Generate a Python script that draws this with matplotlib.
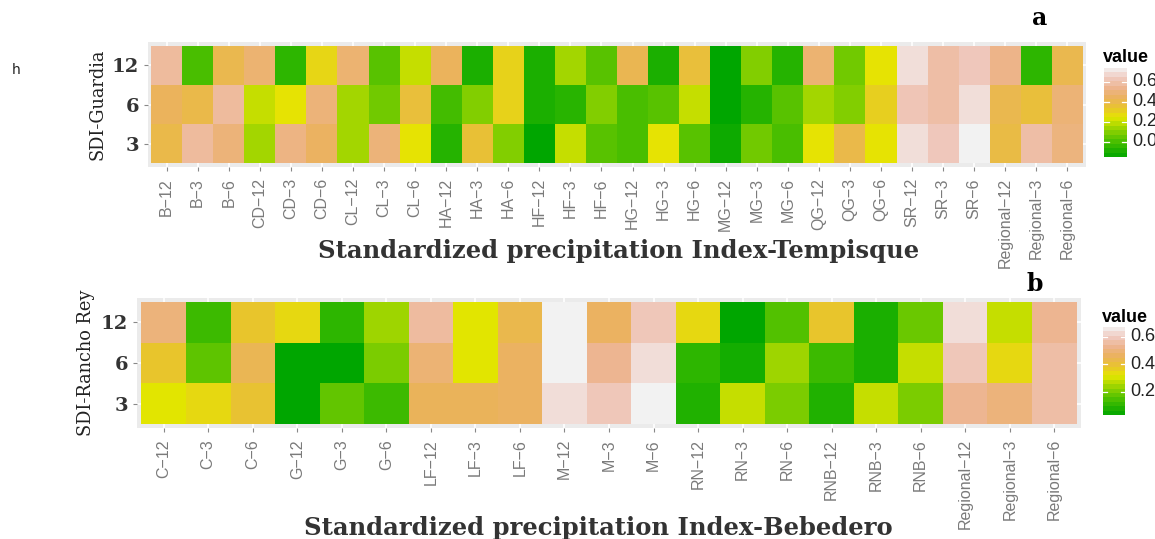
import colorsys
import numpy as np
import matplotlib
matplotlib.use("Agg")
import matplotlib.pyplot as plt
from matplotlib.colors import LinearSegmentedColormap, Normalize

# ---------------- data ----------------
rows = ["3", "6", "12"]

tempisque_cols = ["B-12", "B-3", "B-6", "CD-12", "CD-3", "CD-6", "CL-12", "CL-3", "CL-6",
                  "HA-12", "HA-3", "HA-6", "HF-12", "HF-3", "HF-6", "HG-12", "HG-3", "HG-6",
                  "MG-12", "MG-3", "MG-6", "QG-12", "QG-3", "QG-6", "SR-12", "SR-3", "SR-6",
                  "Regional-12", "Regional-3", "Regional-6"]
tempisque_12 = [0.57, 0.00, 0.41, 0.48, -0.05, 0.29, 0.48, 0.03, 0.20,
                0.44, -0.09, 0.30, -0.09, 0.15, 0.03, 0.42, -0.09, 0.37,
                -0.15, 0.10, -0.07, 0.48, 0.07, 0.25, 0.69, 0.59, 0.63,
                0.53, -0.05, 0.41]
tempisque_6 = [0.44, 0.40, 0.57, 0.20, 0.25, 0.50, 0.15, 0.07, 0.37,
               -0.01, 0.10, 0.30, -0.09, -0.06, 0.10, 0.00, 0.03, 0.20,
               -0.15, -0.07, 0.03, 0.15, 0.10, 0.31, 0.62, 0.59, 0.69,
               0.41, 0.37, 0.49]
tempisque_3 = [0.40, 0.57, 0.50, 0.15, 0.52, 0.45, 0.15, 0.50, 0.25,
               -0.07, 0.36, 0.10, -0.15, 0.20, 0.03, 0.00, 0.25, 0.03,
               -0.12, 0.07, 0.00, 0.25, 0.40, 0.25, 0.69, 0.63, 0.74,
               0.39, 0.59, 0.51]

bebedero_cols = ["C-12", "C-3", "C-6", "G-12", "G-3", "G-6", "LF-12", "LF-3", "LF-6",
                 "M-12", "M-3", "M-6", "RN-12", "RN-3", "RN-6", "RNB-12", "RNB-3", "RNB-6",
                 "Regional-12", "Regional-3", "Regional-6"]
bebedero_12 = [0.50, 0.12, 0.38, 0.34, 0.10, 0.24, 0.55, 0.31, 0.43,
               0.67, 0.46, 0.59, 0.34, 0.03, 0.15, 0.38, 0.07, 0.18,
               0.63, 0.28, 0.53]
bebedero_6 = [0.38, 0.165, 0.44, 0.03, 0.03, 0.20, 0.49, 0.31, 0.46,
              0.67, 0.53, 0.63, 0.10, 0.06, 0.24, 0.12, 0.07, 0.28,
              0.59, 0.34, 0.56]
bebedero_3 = [0.31, 0.34, 0.39, 0.03, 0.17, 0.12, 0.45, 0.45, 0.46,
              0.63, 0.59, 0.67, 0.08, 0.28, 0.20, 0.08, 0.28, 0.20,
              0.53, 0.50, 0.56]

tempisque_ticks = [0.0, 0.2, 0.4, 0.6]
bebedero_ticks = [0.2, 0.4, 0.6]


# R terrain.colors(10)
def terrain_colors(n):
    k = n // 2
    cols = []
    for h, s, v in zip(np.linspace(4 / 12, 2 / 12, k), np.ones(k), np.linspace(0.65, 0.9, k)):
        cols.append(colorsys.hsv_to_rgb(h, s, v))
    m = n - k + 1
    for h, s, v in list(zip(np.linspace(2 / 12, 0, m), np.linspace(1, 0, m), np.linspace(0.9, 0.95, m)))[1:]:
        cols.append(colorsys.hsv_to_rgb(h, s, v))
    return cols


cmap = LinearSegmentedColormap.from_list("terrain_r", terrain_colors(10))

W, H = 1155, 539
fig = plt.figure(figsize=(W / 100, H / 100), dpi=100)


def px_axes(left, top, right, bottom):
    return fig.add_axes([left / W, 1 - bottom / H, (right - left) / W, (bottom - top) / H])


def heat(box, cols, data, ylabel, xlabel, xlabel_xy, letter, letter_xy):
    ax = px_axes(*box)
    data = np.array(data)
    norm = Normalize(vmin=data.min(), vmax=data.max())
    n = len(cols)
    ax.set_facecolor("#EBEBEB")
    ax.set_axisbelow(True)
    ax.grid(color="white", lw=1.2)
    ax.pcolormesh(np.arange(n + 1) - 0.5, np.arange(4) - 0.5, data, cmap=cmap, norm=norm)
    ax.set_xlim(-0.6, n - 0.4)
    ax.set_ylim(-0.6, 2.6)
    ax.set_xticks(range(n))
    ax.set_xticklabels([c.replace("-", "\u2212") for c in cols], rotation=90,
                       fontsize=11.5, color="#7A7A7A", family="Liberation Sans")
    ax.set_yticks(range(3))
    ax.set_yticklabels(rows, fontsize=14, fontweight="bold", family="DejaVu Serif", color="#333333")
    ax.tick_params(length=3, color="#888888", width=0.8)
    ax.tick_params(axis="x", pad=5)
    for s in ax.spines.values():
        s.set_visible(False)
    ax.set_ylabel(ylabel, family="DejaVu Serif", fontsize=12.8, color="#222222", labelpad=4)
    fig.text(xlabel_xy[0] / W, 1 - xlabel_xy[1] / H, xlabel, ha="center", va="center",
             family="DejaVu Serif", fontweight="bold", fontsize=17.5, color="#333333")
    fig.text(letter_xy[0] / W, 1 - letter_xy[1] / H, letter, ha="center", va="center",
             family="DejaVu Serif", fontweight="bold", fontsize=17, color="black")
    return norm


def legend(box, norm, ticks, title_y):
    left, top, right, bottom = box
    cax = px_axes(*box)
    edges = np.linspace(norm.vmin, norm.vmax, 21)
    mids = (edges[:-1] + edges[1:]) / 2
    cax.pcolormesh([0, 1], edges, mids.reshape(-1, 1), cmap=cmap, norm=norm)
    cax.set_xlim(0, 1)
    cax.set_ylim(norm.vmin, norm.vmax)
    cax.axis("off")
    for t in ticks:
        cax.plot([0, 0.2], [t, t], color="white", lw=0.9)
        cax.plot([0.8, 1], [t, t], color="white", lw=0.9)
        yy = bottom - (t - norm.vmin) / (norm.vmax - norm.vmin) * (bottom - top)
        fig.text((right + 5) / W, 1 - yy / H, "%.1f" % t, ha="left", va="center",
                 fontsize=13, color="#222222", family="Liberation Sans")
    fig.text((left - 1) / W, 1 - title_y / H, "value", ha="left", va="center",
             fontsize=13, fontweight="bold", color="black", family="Liberation Sans")


norm_t = heat((148, 42, 1086, 167), tempisque_cols, [tempisque_3, tempisque_6, tempisque_12],
              "SDI-Guardia", "Standardized precipitation Index-Tempisque", (619, 251), "a", (1040, 18))
legend((1104, 68, 1127, 157), norm_t, tempisque_ticks, 57)

norm_b = heat((137, 298, 1081, 428), bebedero_cols, [bebedero_3, bebedero_6, bebedero_12],
              "SDI-Rancho Rey", "Standardized precipitation Index-Bebedero", (598, 528), "b", (1035, 284))
legend((1103, 327, 1125, 415), norm_b, bebedero_ticks, 317)

fig.text(12 / W, 1 - 70 / H, "h", fontsize=10, color="#222222", va="center")

fig.savefig("out.png", dpi=100)
